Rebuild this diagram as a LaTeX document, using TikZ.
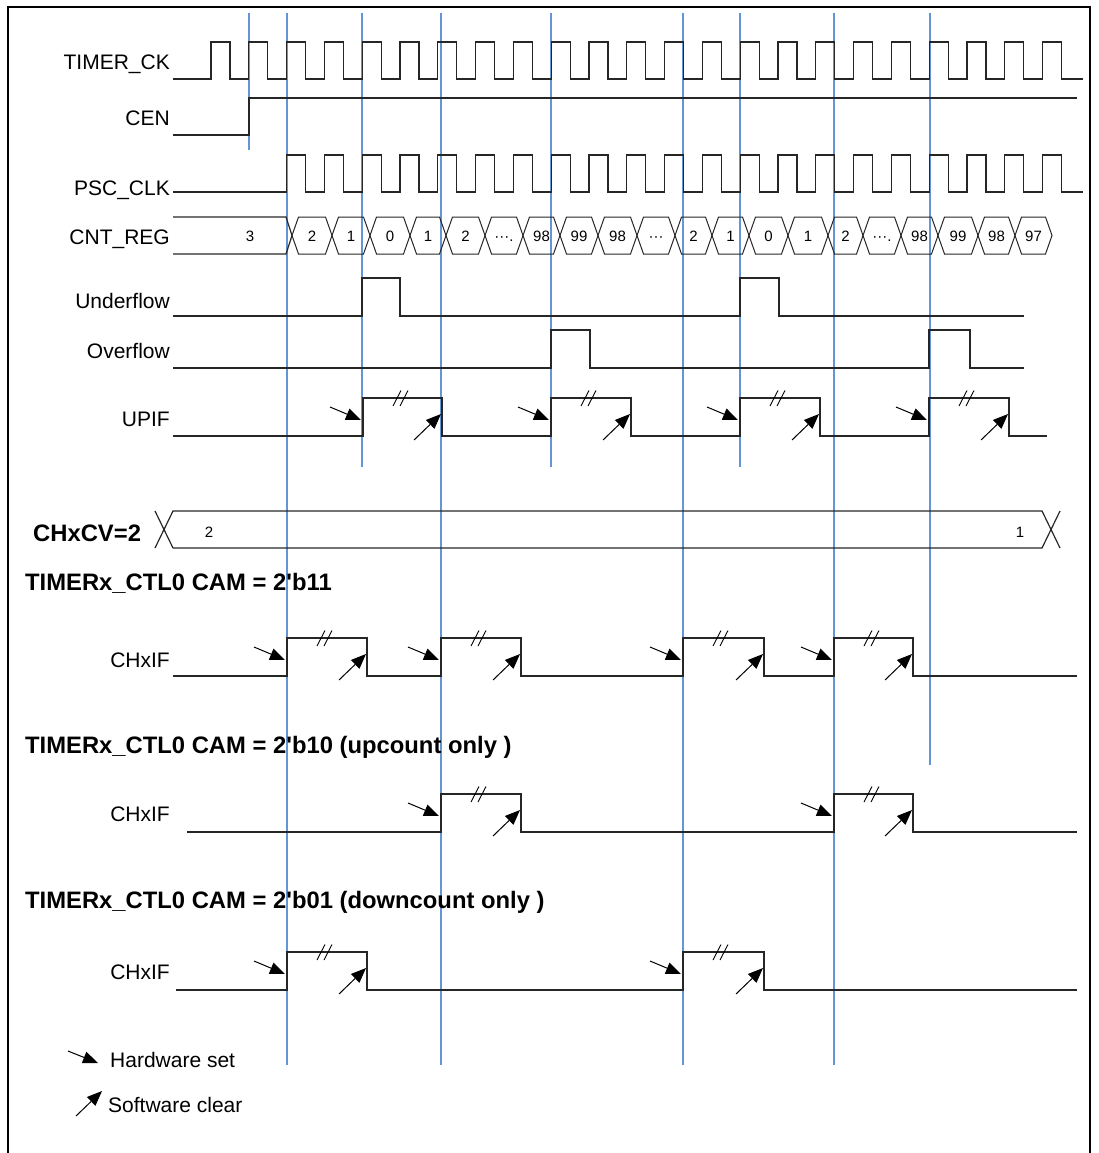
\documentclass[tikz,border=0pt]{standalone}
\usepackage{fontspec}
\setmainfont{Liberation Sans}[Ligatures=TeXOff]
\usetikzlibrary{arrows.meta}
\definecolor{guideblue}{RGB}{100,150,215}
\newcommand\lblfont{\fontsize{21}{24}\selectfont}
\newcommand\ttlfont{\fontsize{23.8}{27}\selectfont\bfseries}
\newcommand\valfont{\fontsize{15}{17}\selectfont}
\newcommand\legfont{\fontsize{21}{24}\selectfont}
% flag marks: #1 rise x, #2 fall x, #3 low y, #4 high y
\newcommand\flagmarks[4]{%
  \draw[hwarr] ({#1-33},{#3-29}) -- ({#1-2},{#3-16});
  \draw[swarr] ({#2-28},{#3+4}) -- ({#2-1},{#3-22});
  \draw[brk] ({#1+30},{#4+8}) -- ({#1+38},{#4-7.5});
  \draw[brk] ({#1+37},{#4+8}) -- ({#1+45},{#4-7.5});
}
\begin{document}
\begin{tikzpicture}[x=1pt,y=-1pt,
  sig/.style={line width=1.2pt, draw=black!85},
  brk/.style={line width=0.9pt, draw=black},
  guide/.style={line width=1.1pt, draw=guideblue},
  lbl/.style={font=\lblfont, inner sep=0pt, anchor=base east},
  ttl/.style={font=\ttlfont, inner sep=0pt, anchor=base west},
  val/.style={font=\valfont, inner sep=0pt, anchor=base},
  legtext/.style={font=\legfont, inner sep=0pt, anchor=base west},
  hwarr/.style={line width=1pt, -{Triangle[length=15pt,width=12pt]}},
  swarr/.style={line width=1pt, -{Triangle[length=15pt,width=12pt]}}]
\useasboundingbox (0,0) rectangle (1098,1153);
% frame
\draw[line width=1.5pt] (8,1156) -- (8,7) -- (1090,7) -- (1090,1156);

% blue guide lines
\foreach \gx/\gy in {249/150, 287/1065, 362/467, 441/1065, 551/467, 683/1065, 740/467, 834/1065, 930/765}
  { \draw[guide] (\gx,13) -- (\gx,\gy); }

% labels
\node[lbl] (lck)  at (170,69.5) {TIMER\_CK};
\node[lbl] (lcen) at (170,126) {CEN};
\node[lbl] (lpsc) at (170,195) {PSC\_CLK};
\node[lbl] (lcnt) at (170,244) {CNT\_REG};
\node[lbl] (lund) at (170,308) {Underflow};
\node[lbl] (lovf) at (170,358) {Overflow};
\node[lbl] (lupif) at (170,426) {UPIF};
\node[lbl] (lif1) at (170,667) {CHxIF};
\node[lbl] (lif2) at (170,821) {CHxIF};
\node[lbl] (lif3) at (170,979) {CHxIF};

% TIMER_CK
\draw[sig] (173,79) foreach \k in {0,...,22} { -- ({211+37.8*\k},79) -- ({211+37.8*\k},42) -- ({229.9+37.8*\k},42) -- ({229.9+37.8*\k},79) } -- (1083,79);
% CEN
\draw[sig] (173,135) -- (249,135) -- (249,98) -- (1077,98);
% PSC_CLK
\draw[sig] (173,192) foreach \k in {2,...,22} { -- ({211+37.8*\k},192) -- ({211+37.8*\k},155) -- ({229.9+37.8*\k},155) -- ({229.9+37.8*\k},192) } -- (1083,192);

% CNT_REG
\draw[sig] (173,217) -- (286,217) -- (292,235.5) -- (286,254) -- (173,254);
\node[val] (cnt0) at (250,241) {3};
\foreach \a/\b/\v [count=\i] in {292/332/2, 332/370/1, 370/410/0, 410/446/1, 446/485/2, 485/523/{···.}, 523/560/98, 560/598/99, 598/637/98, 637/675/{···}, 675/712/2, 712/749/1, 749/788/0, 788/828/1, 828/863/2, 863/901/{···.}, 901/938/98, 938/978/99, 978/1015/98, 1015/1052/97}
{
  \draw[sig, line width=1pt] (\a,235.5) -- ({\a+6.5},217) -- ({\b-6.5},217) -- (\b,235.5) -- ({\b-6.5},254) -- ({\a+6.5},254) -- cycle;
  \node[val] (cnt\i) at ({(\a+\b)/2},241.5) {\v};
}

% Underflow / Overflow
\draw[sig] (173,316) -- (362,316) -- (362,278) -- (400,278) -- (400,316) -- (740,316) -- (740,278) -- (779,278) -- (779,316) -- (1024,316);
\draw[sig] (173,368) -- (551,368) -- (551,330) -- (590,330) -- (590,368) -- (929,368) -- (929,330) -- (970,330) -- (970,368) -- (1024,368);

% UPIF
\draw[sig] (173,436) foreach \r/\f in {363/442, 551/631, 740/820, 929/1009} { -- (\r,436) -- (\r,398) -- (\f,398) -- (\f,436) } -- (1047,436);
\foreach \r/\f in {363/442, 551/631, 740/820, 929/1009} { \flagmarks{\r}{\f}{436}{398} }

% CHxCV bus
\node[ttl] (cv) at (33,541) {CHxCV=2};
\draw[sig] (155,511) -- (173,548) (155,548) -- (173,511) -- (1042,511) -- (1060,548)
           (173,548) -- (1042,548) -- (1060,511);
\node[val] (cv2) at (209,537) {2};
\node[val] (cv1) at (1020,537) {1};

% CAM = 11
\node[ttl] (cam11) at (25,590) {TIMERx\_CTL0 CAM = 2'b11};
\draw[sig] (173,676) foreach \r/\f in {287/367, 441/521, 683/764, 834/913} { -- (\r,676) -- (\r,638) -- (\f,638) -- (\f,676) } -- (1077,676);
\foreach \r/\f in {287/367, 441/521, 683/764, 834/913} { \flagmarks{\r}{\f}{676}{638} }

% CAM = 10
\node[ttl] (cam10) at (25,753) {TIMERx\_CTL0 CAM = 2'b10 (upcount only )};
\draw[sig] (187,832) foreach \r/\f in {441/521, 834/913} { -- (\r,832) -- (\r,794) -- (\f,794) -- (\f,832) } -- (1077,832);
\foreach \r/\f in {441/521, 834/913} { \flagmarks{\r}{\f}{832}{794} }

% CAM = 01
\node[ttl] (cam01) at (25,908) {TIMERx\_CTL0 CAM = 2'b01 (downcount only )};
\draw[sig] (176,990) foreach \r/\f in {287/367, 683/764} { -- (\r,990) -- (\r,952) -- (\f,952) -- (\f,990) } -- (1077,990);
\foreach \r/\f in {287/367, 683/764} { \flagmarks{\r}{\f}{990}{952} }

% legend
\coordinate (hwa) at (68,1051);
\coordinate (hwb) at (98,1063);
\coordinate (swa) at (76,1116);
\coordinate (swb) at (102,1091);
\draw[hwarr] (hwa) -- (hwb);
\draw[swarr] (swa) -- (swb);
\node[legtext] (lhw) at (110,1067) {Hardware set};
\node[legtext] (lsw) at (108,1112) {Software clear};
\end{tikzpicture}
\end{document}
